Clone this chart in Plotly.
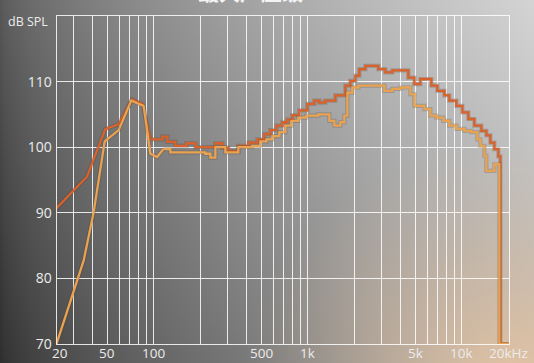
import base64
import struct
import zlib

import numpy as np
import plotly.graph_objects as go

# ---------------------------------------------------------------------------
# Maximum SPL curves (frequency in Hz, level in dB SPL)
# ---------------------------------------------------------------------------
F_START = 23.4     # left end of the frequency axis (labelled "20")
F_END = 20300.0    # right end of the frequency axis

# low-frequency portion, drawn with straight segments
dark_low_f = [23.4, 36.9, 48.6, 59.3, 72.4, 84.8, 95.2]
dark_low_db = [90.7, 95.5, 102.8, 103.5, 107.3, 106.6, 101.2]

light_low_f = [23.4, 35.1, 40.8, 44.0, 48.1, 59.3, 71.6, 86.1, 95.2, 105.2, 115.6]
light_low_db = [70.0, 82.7, 90.1, 94.8, 100.9, 102.6, 107.1, 106.3, 99.0, 98.5, 99.7]

# mid/high portion, stepped bands
dark_step_f = [95.2, 113.9, 122.7, 138.3, 163.1, 186.6, 251.6, 279.3, 305.6, 354.8,
               412.1, 471.5, 523.6, 572.6, 626.3, 685.0, 738.3, 795.6, 883.4, 995.6,
               1105, 1191, 1303, 1513, 1757, 1894, 2041, 2166, 2370, 2879,
               3196, 3548, 4507, 4932, 5394, 6359, 6955, 7722, 8323, 9240,
               10107, 11053, 12092, 13427, 14469, 15361, 16310, 17312, 17838, 20300]
dark_step_db = [101.2, 101.6, 100.8, 100.2, 100.6, 100.0, 100.6, 99.9, 99.4, 100.2,
                100.7, 101.2, 102.0, 102.6, 103.3, 103.8, 104.2, 104.9, 105.6, 106.6,
                107.1, 106.8, 107.1, 107.9, 109.4, 110.1, 110.9, 111.9, 112.4, 111.9,
                111.4, 111.7, 110.6, 109.6, 110.4, 109.4, 108.6, 107.9, 107.1, 106.3,
                105.3, 104.3, 103.3, 102.5, 101.8, 100.7, 99.7, 98.6, 70.0, 70.0]

light_step_f = [115.6, 128.4, 216.6, 233.4, 251.6, 292.1, 354.8, 437.4, 493.1, 539.3,
                589.9, 655.1, 716.5, 783.8, 870.3, 980.8, 1173, 1383, 1491, 1631,
                1731, 1810, 1951, 2134, 3149, 3548, 3999, 4645, 4932, 5725,
                6264, 6848, 7607, 8323, 9240, 10414, 11562, 12647, 13228, 14045,
                14469, 16310, 17572, 20300]
light_step_db = [99.7, 99.2, 99.0, 98.4, 100.0, 99.2, 100.0, 100.2, 100.9, 101.2,
                 101.7, 102.3, 103.3, 104.0, 104.5, 104.8, 105.0, 104.0, 103.3, 103.8,
                 104.8, 108.3, 109.1, 109.4, 108.6, 108.9, 109.1, 108.1, 106.3, 105.8,
                 104.8, 104.5, 104.0, 103.3, 102.8, 102.5, 102.3, 101.2, 100.2, 98.7,
                 96.4, 97.4, 70.0, 70.0]

# axis grid and labels
x_grid = [F_START, 30, 40, 50, 60, 70, 80, 90,
          100, 200, 300, 400, 500, 600, 700, 800, 900,
          1000, 2000, 3000, 4000, 5000, 6000, 7000, 8000, 9000,
          10000, 20000]
x_label_pos = [F_START, 50, 100, 500, 1000, 5000, 10000, 20000]
x_label_text = ["20", "50", "100", "500", "1k", "5k", "10k", "20kHz"]
y_ticks = [70, 80, 90, 100, 110]
y_labels = ["70", "80", "90", "100", "110"]

title_text = "最大声压级"
unit_text = "dB SPL"

DARK = "#d9622a"
LIGHT = "#e9a250"
SHADOW = "rgba(70,50,40,0.22)"

W, H = 534, 363


# ---------------------------------------------------------------------------
# backdrop: grey gradient with a warm glow in the lower right corner
# ---------------------------------------------------------------------------
def png_data_uri(rgb):
    h, w, _ = rgb.shape
    raw = b"".join(b"\x00" + rgb[r].tobytes() for r in range(h))

    def chunk(tag, data):
        c = struct.pack(">I", len(data)) + tag + data
        return c + struct.pack(">I", zlib.crc32(tag + data) & 0xFFFFFFFF)

    png = (b"\x89PNG\r\n\x1a\n"
           + chunk(b"IHDR", struct.pack(">IIBBBBB", w, h, 8, 2, 0, 0, 0))
           + chunk(b"IDAT", zlib.compress(raw, 9))
           + chunk(b"IEND", b""))
    return "data:image/png;base64," + base64.b64encode(png).decode()


yy, xx = np.mgrid[0:H, 0:W].astype(float)
xn, yn = xx / (W - 1), yy / (H - 1)
grey = 46 + 124 * xn ** 0.65 + 42 * (1 - yn)
bg = np.stack([grey, grey, grey], axis=-1)
dist = np.hypot((xx - 515) * 0.9, yy - 385)
glow = (np.clip(1 - dist / 250, 0, 1) ** 1.2 * 0.9)[..., None]
bg = bg * (1 - glow) + np.array([236, 200, 164]) * glow
bg_uri = png_data_uri(np.clip(bg, 0, 255).astype(np.uint8))

# ---------------------------------------------------------------------------
# figure
# ---------------------------------------------------------------------------
fig = go.Figure()


def add_curve(fx, fy, color, shape):
    fig.add_trace(go.Scatter(x=fx, y=fy, mode="lines", line_shape=shape,
                             line=dict(color=SHADOW, width=4.2),
                             hoverinfo="skip", showlegend=False, cliponaxis=False))
    fig.add_trace(go.Scatter(x=fx, y=fy, mode="lines", line_shape=shape,
                             line=dict(color=color, width=2.3),
                             showlegend=False, cliponaxis=False))


add_curve(dark_low_f, dark_low_db, DARK, "linear")
add_curve(dark_step_f, dark_step_db, DARK, "hv")
add_curve(light_low_f, light_low_db, LIGHT, "linear")
add_curve(light_step_f, light_step_db, LIGHT, "hv")

grid_col = "rgba(255,255,255,0.85)"
label_col = "#ececec"
y_font = dict(family="Open Sans, sans-serif", size=14, color=label_col)
x_font = dict(family="Open Sans, sans-serif", size=13.5, color=label_col)

# frequency labels sit right at the bottom edge of the figure;
# the first one is nudged right so it clears the "70" level label
annotations = [
    dict(text=t, xref="x", yref="paper", x=np.log10(f), y=0,
         xanchor="center", yanchor="bottom", showarrow=False, borderpad=0,
         xshift=3 if i == 0 else 0, font=x_font)
    for i, (f, t) in enumerate(zip(x_label_pos, x_label_text))
]
annotations += [
    dict(text=unit_text, xref="paper", yref="paper", x=50 / W, y=(H - 22) / H,
         xanchor="right", yanchor="middle", showarrow=False,
         font=dict(family="Open Sans, sans-serif", size=12.5, color=label_col)),
    dict(text="<b>" + title_text + "</b>", xref="paper", yref="paper",
         x=250 / W, y=(H - 8) / H, xanchor="center", yanchor="bottom",
         showarrow=False,
         font=dict(family="Noto Sans CJK SC, sans-serif", size=21, color="#f4f4f4")),
]

fig.update_layout(
    width=W, height=H,
    margin=dict(l=0, r=0, t=0, b=0),
    paper_bgcolor="#808080",
    plot_bgcolor="rgba(0,0,0,0)",
    showlegend=False,
    images=[dict(source=bg_uri, xref="paper", yref="paper", x=0, y=1,
                 sizex=1, sizey=1, xanchor="left", yanchor="top",
                 sizing="stretch", layer="below")],
    xaxis=dict(type="log", range=[np.log10(F_START), np.log10(F_END)],
               domain=[56.5 / W, 509 / W],
               tickvals=x_grid, showticklabels=False,
               showgrid=True, gridcolor=grid_col, gridwidth=1,
               showline=True, mirror=True, linecolor=grid_col, linewidth=1,
               ticks="", zeroline=False, automargin=False, fixedrange=True),
    yaxis=dict(range=[70, 120], domain=[(H - 344) / H, (H - 16) / H],
               tickvals=y_ticks, ticktext=y_labels, tickfont=y_font,
               ticklabelstandoff=1,
               showgrid=True, gridcolor=grid_col, gridwidth=1,
               showline=True, mirror=True, linecolor=grid_col, linewidth=1,
               ticks="", zeroline=False, automargin=False, fixedrange=True),
    annotations=annotations,
)

fig.write_html("out.html")
